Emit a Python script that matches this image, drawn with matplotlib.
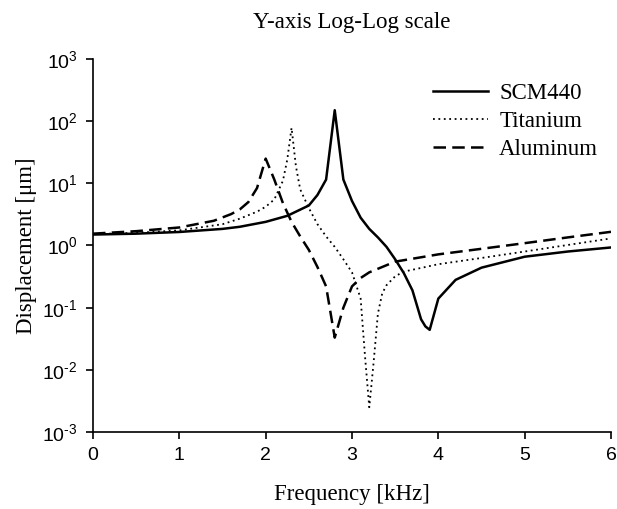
import matplotlib
matplotlib.use("Agg")
import matplotlib.pyplot as plt
from matplotlib.ticker import LogLocator, NullLocator, FuncFormatter
import math

# ---- data ----
scm_f = [0, 0.5, 1.0, 1.5, 1.7, 2.0, 2.25, 2.5, 2.6, 2.7, 2.8, 2.9, 3.0, 3.1, 3.2, 3.3, 3.4, 3.5,
         3.6, 3.7, 3.8, 3.85, 3.9, 4.0, 4.2, 4.5, 5.0, 5.5, 6.0]
scm_v = [1.5, 1.55, 1.65, 1.85, 2.0, 2.4, 3.0, 4.4, 6.5, 11.5, 150, 11.5, 5.2, 2.8, 1.85, 1.35, 0.95, 0.6,
         0.36, 0.19, 0.065, 0.05, 0.044, 0.14, 0.28, 0.44, 0.66, 0.8, 0.93]

ti_f = [0, 0.5, 1.0, 1.5, 1.7, 1.9, 2.0, 2.1, 2.2, 2.25, 2.3, 2.35, 2.4, 2.5, 2.6, 2.7, 2.8, 2.9,
        3.0, 3.1, 3.15, 3.2, 3.25, 3.3, 3.35, 3.4, 3.5, 3.6, 4.0, 4.5, 5.0, 5.5, 6.0]
ti_v = [1.52, 1.6, 1.75, 2.2, 2.7, 3.5, 4.2, 5.5, 11, 24, 78, 19, 8, 4.0, 2.2, 1.4, 0.95, 0.6,
        0.37, 0.14, 0.017, 0.0025, 0.013, 0.08, 0.17, 0.23, 0.32, 0.38, 0.5, 0.63, 0.8, 1.02, 1.3]

al_f = [0, 0.5, 1.0, 1.4, 1.6, 1.7, 1.8, 1.9, 2.0, 2.1, 2.2, 2.3, 2.4, 2.5, 2.6, 2.7, 2.8, 2.9,
        3.0, 3.1, 3.2, 3.5, 4.0, 4.5, 5.0, 5.5, 6.0]
al_v = [1.55, 1.7, 1.95, 2.5, 3.2, 3.8, 5.0, 8.4, 25, 11.5, 4.8, 2.4, 1.4, 0.85, 0.45, 0.22, 0.033, 0.1,
        0.22, 0.3, 0.37, 0.55, 0.72, 0.885, 1.09, 1.35, 1.66]

labels = ["SCM440", "Titanium", "Aluminum"]
x_ticks = [0, 1, 2, 3, 4, 5, 6]

plt.rcParams['font.family'] = ['Liberation Sans', 'DejaVu Sans']
plt.rcParams['mathtext.fontset'] = 'custom'
plt.rcParams['mathtext.rm'] = 'Liberation Sans'
plt.rcParams['mathtext.it'] = 'Liberation Sans'
plt.rcParams['mathtext.bf'] = 'Liberation Sans'
serif = ['Liberation Serif', 'DejaVu Serif']

fig = plt.figure(figsize=(6.17, 5.09), dpi=100)
ax = fig.add_axes([93/617, 1-432/509, (611-93)/617, (432-59)/509])

ax.plot(scm_f, scm_v, color='black', lw=1.8, ls='-', label=labels[0])
ax.plot(ti_f, ti_v, color='black', lw=1.3, ls=(0, (1, 2)), label=labels[1])
ax.plot(al_f, al_v, color='black', lw=1.8, ls=(0, (5, 2.5)), label=labels[2])

ax.set_yscale('log')
ax.set_ylim(1e-3, 1e3)
ax.set_xlim(0, 6)
ax.set_xticks(x_ticks)
ax.yaxis.set_major_locator(LogLocator(base=10, numticks=10))
ax.yaxis.set_minor_locator(NullLocator())


def fmt(v, pos):
    e = int(round(math.log10(v)))
    if e < 0:
        return r'$\mathrm{10}^{\text{-}%d}$' % (-e)
    return r'$\mathrm{10}^{%d}$' % e


ax.yaxis.set_major_formatter(FuncFormatter(fmt))

for s in ['top', 'right']:
    ax.spines[s].set_visible(False)
for s in ['left', 'bottom']:
    ax.spines[s].set_linewidth(1.2)
ax.tick_params(axis='both', direction='out', length=5, width=1.2, labelsize=14, pad=6)

ax.set_title("Y-axis Log-Log scale", fontfamily=serif, fontsize=16.5, pad=22)
ax.set_xlabel("Frequency [kHz]", fontfamily=serif, fontsize=16.5, labelpad=14)
ax.set_ylabel("Displacement [μm]", fontfamily=serif, fontsize=16.5, labelpad=4)

leg = ax.legend(loc='upper right', bbox_to_anchor=(1.015, 0.99), frameon=False,
                prop={'family': serif, 'size': 16.5}, handlelength=2.4, handletextpad=0.5,
                labelspacing=0.3)

fig.savefig("out.png", dpi=100)
